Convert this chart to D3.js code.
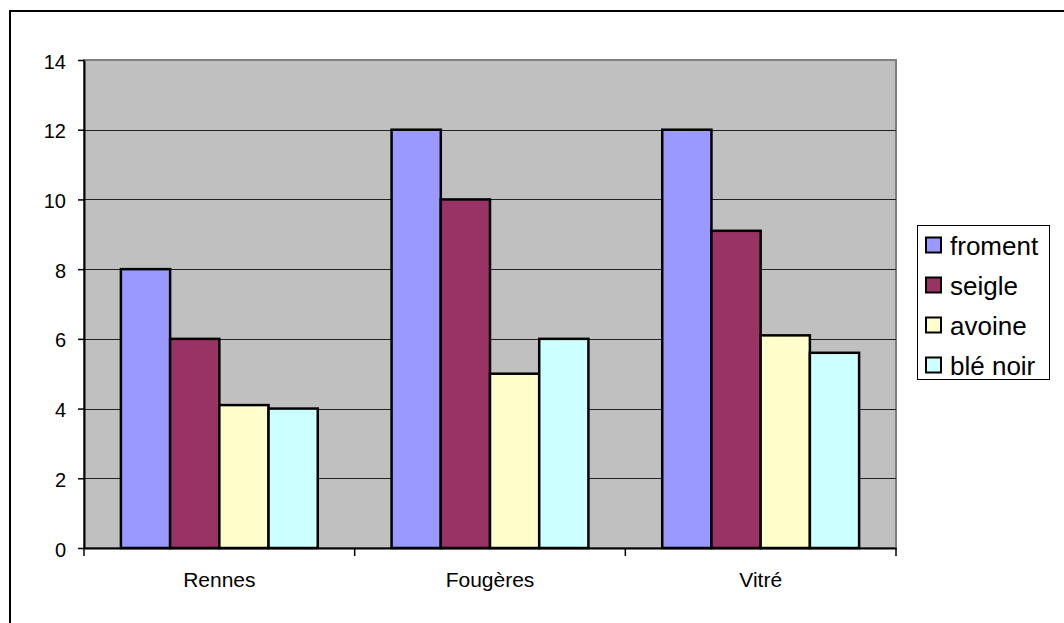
<!DOCTYPE html>
<html><head><meta charset="utf-8">
<script src="https://cdn.jsdelivr.net/npm/d3@7"></script>
<style>body{margin:0;background:#fff}svg{display:block}</style>
</head><body>
<svg id="c" width="1064" height="623"></svg>
<script>
const categories = ["Rennes", "Fougères", "Vitré"];
const seriesNames = ["froment", "seigle", "avoine", "blé noir"];
const froment = [8, 12, 12];
const seigle = [6, 10, 9.1];
const avoine = [4.1, 5, 6.1];
const bleNoir = [4, 6, 5.6];
const yTicks = [0, 2, 4, 6, 8, 10, 12, 14];
const colors = ["#9999ff", "#993366", "#ffffcc", "#ccffff"];
const series = [froment, seigle, avoine, bleNoir];

const svg = d3.select("#c");
const font = "'Liberation Sans', Arial, sans-serif";

// outer border
svg.append("rect").attr("x", 10).attr("y", 11).attr("width", 1100).attr("height", 700)
  .attr("fill", "none").attr("stroke", "#000").attr("stroke-width", 2);

const L = 84, R = 896, T = 60, B = 548;
const x = d3.scaleBand().domain(categories).range([L, R]);
const y = d3.scaleLinear().domain([0, 14]).range([B, T]);

// plot area
svg.append("rect").attr("x", L).attr("y", T).attr("width", R - L).attr("height", B - T)
  .attr("fill", "#c0c0c0").attr("stroke", "#808080").attr("stroke-width", 2);

// gridlines
svg.append("g").selectAll("line").data(yTicks.filter(d => d > 0 && d < 14)).join("line")
  .attr("x1", L).attr("x2", R).attr("y1", d => Math.round(y(d)) + 0.5).attr("y2", d => Math.round(y(d)) + 0.5)
  .attr("stroke", "#222").attr("stroke-width", 1);

// bars
const bw = x.bandwidth() / 5.5;
const gap = x.bandwidth() * 0.75 / 5.5;
const x1 = d3.scaleBand().domain(d3.range(4)).range([0, bw * 4]).padding(0);
const g = svg.append("g");
categories.forEach((c, ci) => {
  series.forEach((s, si) => {
    g.append("rect")
      .attr("x", x(c) + gap + x1(si))
      .attr("y", y(s[ci]))
      .attr("width", x1.bandwidth())
      .attr("height", B - y(s[ci]))
      .attr("fill", colors[si]).attr("stroke", "#000").attr("stroke-width", 2.5);
  });
});

// y axis
const yAxis = d3.axisLeft(y).tickValues(yTicks).tickSize(6).tickPadding(12).tickSizeOuter(0);
const ya = svg.append("g").attr("transform", `translate(${L},0)`).call(yAxis);
ya.select(".domain").attr("stroke", "#000").attr("stroke-width", 2);
ya.selectAll(".tick line").attr("stroke", "#000").attr("stroke-width", 1.5);
ya.selectAll("text").attr("font-family", font).attr("font-size", 20).attr("fill", "#000").attr("dy", "0.4em");

// x axis
const xAxis = d3.axisBottom(x).tickSize(0).tickPadding(24).tickSizeOuter(0);
const xa = svg.append("g").attr("transform", `translate(0,${B})`).call(xAxis);
xa.select(".domain").attr("stroke", "#000").attr("stroke-width", 2);
xa.selectAll("text").attr("font-family", font).attr("font-size", 21).attr("fill", "#000");
// category boundary ticks
const bounds = [L, x("Fougères"), x("Vitré"), R];
svg.append("g").selectAll("line").data(bounds).join("line")
  .attr("x1", d => d).attr("x2", d => d).attr("y1", B).attr("y2", B + 8)
  .attr("stroke", "#000").attr("stroke-width", 1.5);

// legend
const lg = svg.append("g");
lg.append("rect").attr("x", 917.5).attr("y", 225.5).attr("width", 132).attr("height", 154)
  .attr("fill", "#fff").attr("stroke", "#000").attr("stroke-width", 1);
seriesNames.forEach((n, i) => {
  const cy = 245 + i * 40;
  lg.append("rect").attr("x", 926).attr("y", cy - 7.5).attr("width", 15).attr("height", 15)
    .attr("fill", colors[i]).attr("stroke", "#000").attr("stroke-width", 2);
  lg.append("text").attr("x", 950).attr("y", cy + 10).text(n)
    .attr("font-family", font).attr("font-size", 26).attr("fill", "#000");
});
</script>
</body></html>
